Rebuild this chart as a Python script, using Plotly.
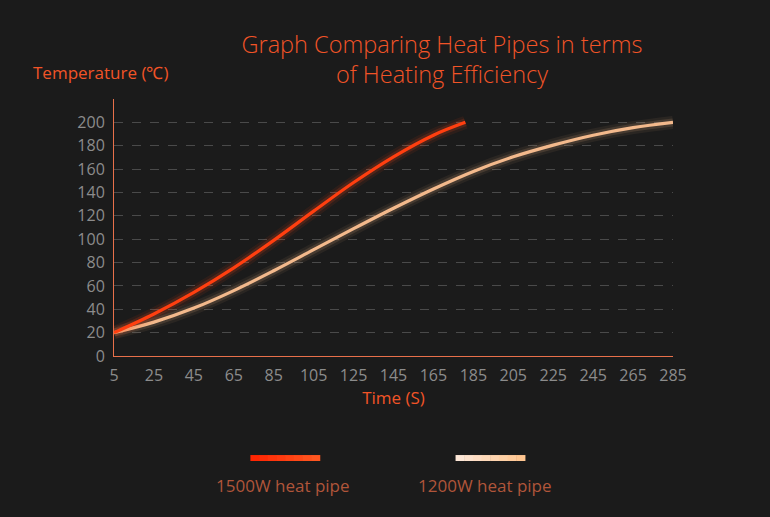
import plotly.graph_objects as go

# ---- data ----
x_ticks = [5, 25, 45, 65, 85, 105, 125, 145, 165, 185, 205, 225, 245, 265, 285]
y_ticks = [0, 20, 40, 60, 80, 100, 120, 140, 160, 180, 200]

time_1500 = [5, 25, 45, 65, 85, 105, 125, 145, 165, 181]
temp_1500 = [20, 36, 54.5, 75.5, 99, 124, 148.5, 170.5, 189, 200]

time_1200 = [5, 25, 45, 65, 85, 105, 125, 145, 165, 185, 205, 225, 245, 265, 285]
temp_1200 = [20, 29, 41, 56, 73, 91, 109, 126.5, 143, 158, 170.5, 180.5, 189, 195.5, 200]

series_names = ["1500W heat pipe", "1200W heat pipe"]

title_text = "Graph Comparing Heat Pipes in terms<br>of Heating Efficiency"
y_title = "Temperature (℃)"
x_title = "Time (S)"

BG = "#1b1b1b"
ORANGE = "#f25427"
C1500 = "#ff3f10"
C1200 = "#f3b98c"
GLOW1500 = "#ff4a1a"
GLOW1200 = "#d9a47a"

fig = go.Figure()

def add_glowing(x, y, color, glow, name):
    for w, op in [(13, 0.08), (8, 0.16)]:
        fig.add_trace(go.Scatter(x=x, y=y, mode="lines",
                                 line=dict(color=glow, width=w, shape="spline"),
                                 opacity=op, hoverinfo="skip", showlegend=False))
    fig.add_trace(go.Scatter(x=x, y=y, mode="lines", name=name,
                             line=dict(color=color, width=3.2, shape="spline"),
                             showlegend=False))

add_glowing(time_1200, temp_1200, C1200, GLOW1200, series_names[1])
add_glowing(time_1500, temp_1500, C1500, GLOW1500, series_names[0])

fig.update_layout(
    width=770, height=517,
    paper_bgcolor=BG, plot_bgcolor=BG,
    margin=dict(l=114, r=97, t=99, b=161),
    font=dict(family="Open Sans", color="#8c8c8c", size=16),
    title=dict(text=title_text, x=0.574, xanchor="center", y=0.898, yanchor="top",
               yref="container",
               font=dict(family="Open Sans", size=23.5, color=ORANGE, weight=300)),
    xaxis=dict(range=[5, 285], tickvals=x_ticks, ticktext=[str(v) for v in x_ticks],
               showgrid=False, zeroline=False, showline=True, linecolor="#e8704a",
               linewidth=1, ticks="", ticklabelstandoff=5,
               tickfont=dict(color="#8c8c8c", size=16),
               title=dict(text=x_title, font=dict(color=ORANGE, size=17), standoff=5)),
    yaxis=dict(range=[0, 220], tickvals=y_ticks, showgrid=True, gridcolor="#4a4a4a",
               griddash="dash", gridwidth=1, zeroline=False, showline=True,
               linecolor="#e8704a", linewidth=1, ticks="", ticklabelstandoff=5,
               tickfont=dict(color="#8c8c8c", size=16)),
    showlegend=False,
)

# y-axis title placed at top-left like the reference
fig.add_annotation(text=y_title, xref="paper", yref="paper", x=-0.149, y=1.102,
                   xanchor="left", yanchor="middle", showarrow=False,
                   font=dict(color=ORANGE, size=17))

# custom legend under the chart (gradient swatches)
def mix(c1, c2, t):
    a = [int(c1[i:i + 2], 16) for i in (1, 3, 5)]
    b = [int(c2[i:i + 2], 16) for i in (1, 3, 5)]
    return "#" + "".join(f"{round(a[k] + (b[k] - a[k]) * t):02x}" for k in range(3))

legend_grad = [("#ff2200", "#ff5a22"), ("#fde9dc", "#ffc48c")]
legend_line_cx = [0.306, 0.673]
legend_text_cx = [0.302, 0.664]
nseg = 8
half = 0.062
for name, (ca, cb), lc, tc in zip(series_names, legend_grad, legend_line_cx, legend_text_cx):
    for s in range(nseg):
        x0 = lc - half + 2 * half * s / nseg
        x1 = lc - half + 2 * half * (s + 1) / nseg
        fig.add_shape(type="line", xref="paper", yref="paper",
                      x0=x0, x1=x1 + 0.001, y0=-0.397, y1=-0.397,
                      line=dict(color=mix(ca, cb, (s + 0.5) / nseg), width=6))
    fig.add_annotation(text=name, xref="paper", yref="paper", x=tc, y=-0.502,
                       xanchor="center", yanchor="middle", showarrow=False,
                       font=dict(color="#b0553a", size=17))

fig.write_html("out.html")
